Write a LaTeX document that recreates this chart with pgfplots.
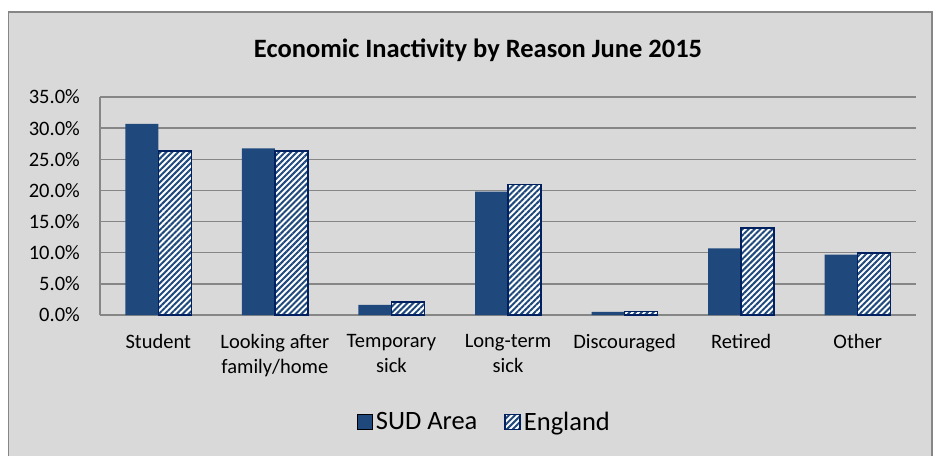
\documentclass[border=0pt]{standalone}
\usepackage{pgfplots}
\pgfplotsset{compat=1.18}
\usepackage{fontspec}
\setmainfont{Carlito}
\usetikzlibrary{patterns.meta}

\definecolor{sudblue}{RGB}{31,73,125}
\definecolor{engnavy}{RGB}{0,32,96}
\definecolor{panel}{RGB}{217,217,217}
\definecolor{gridgray}{RGB}{134,134,134}

\begin{document}
\begin{tikzpicture}[x=1pt,y=1pt]
\useasboundingbox (0,0) rectangle (933,455);
\fill[white] (0,0) rectangle (933,455);
% chart area
\filldraw[fill=panel, draw=gridgray, line width=1.2pt] (8.5,-10) rectangle (932,443);

\node[font=\bfseries\fontsize{26.5}{30}\selectfont] at (478,405) {Economic Inactivity by Reason June 2015};

\begin{axis}[
  at={(100pt,140pt)}, anchor=south west,
  scale only axis, width=816pt, height=218pt,
  xmin=-0.5, xmax=6.5, ymin=0, ymax=35,
  xtick={0,...,6},
  xticklabels={Student,{Looking after\\family/home},{Temporary\\sick},{Long-term\\sick},Discouraged,Retired,Other},
  ytick={0,5,...,35},
  yticklabels={0.0\%,5.0\%,10.0\%,15.0\%,20.0\%,25.0\%,30.0\%,35.0\%},
  tick label style={font=\fontsize{20.5}{25}\selectfont},
  yticklabel style={inner sep=0pt, xshift=-20pt},
  xticklabel style={align=center, inner sep=0pt, yshift=-19pt},
  major tick length=0pt,
  axis x line*=bottom, axis y line*=left,
  axis line style={-, gridgray, line width=1.5pt},
  ymajorgrids, grid style={gridgray, line width=1.5pt},
  ybar=0pt, bar width=33pt,
  legend style={at={(0.472,-0.491)}, anchor=center, legend columns=2,
    draw=none, fill=none, font=\fontsize{26.5}{30}\selectfont,
    nodes={inner sep=3pt},
    /tikz/every even column/.append style={column sep=24pt}},
  legend image code/.code={\draw[#1] (0pt,-7.5pt) rectangle (15pt,7.5pt);},
]
\addplot[fill=sudblue, draw=none] coordinates
  {(0,30.7) (1,26.75) (2,1.62) (3,19.8) (4,0.49) (5,10.7) (6,9.7)};
\addplot[fill=white, draw=engnavy, line width=1.5pt,
  postaction={pattern={Lines[angle=45, distance=4.2pt, line width=2pt]}, pattern color=sudblue}] coordinates
  {(0,26.3) (1,26.35) (2,2.1) (3,20.97) (4,0.53) (5,13.96) (6,9.97)};
\legend{SUD Area, England}
\end{axis}
\end{tikzpicture}
\end{document}
